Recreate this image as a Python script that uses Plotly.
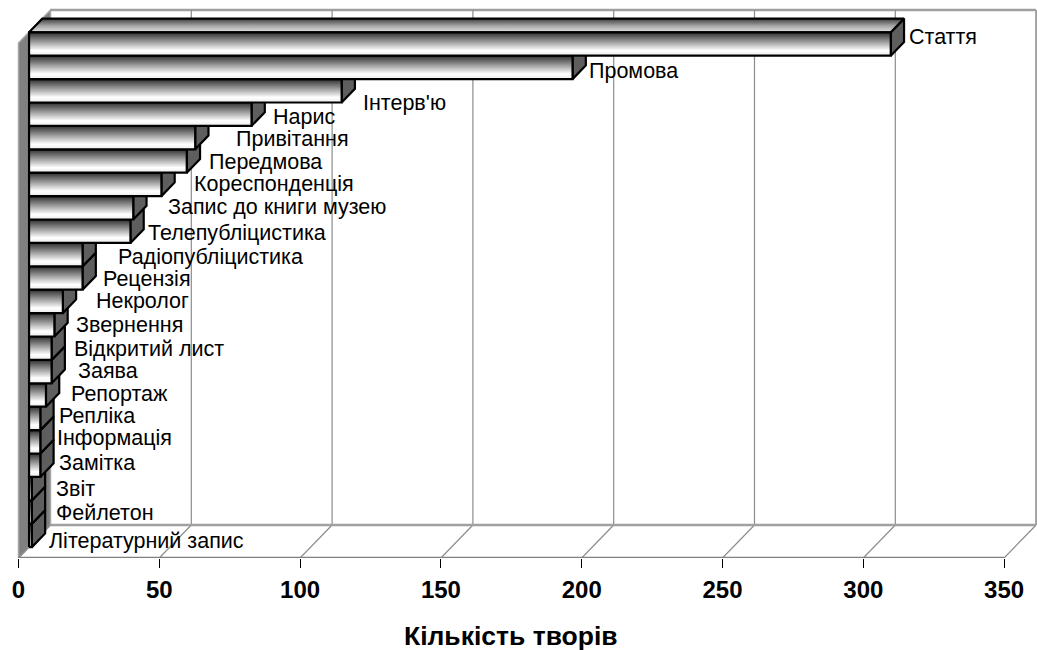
import plotly.graph_objects as go

# Genres (top to bottom) and number of works in each
genres = [
    "Стаття", "Промова", "Інтерв'ю", "Нарис", "Привітання", "Передмова",
    "Кореспонденція", "Запис до книги музею", "Телепубліцистика",
    "Радіопубліцистика", "Рецензія", "Некролог", "Звернення",
    "Відкритий лист", "Заява", "Репортаж", "Репліка", "Інформація",
    "Замітка", "Звіт", "Фейлетон", "Літературний запис",
]
counts = [306, 193, 111, 79, 59, 56, 47, 37, 36, 19, 19, 12, 9, 8, 8, 6, 4, 4, 4, 1, 1, 1]
x_ticks = [0, 50, 100, 150, 200, 250, 300, 350]
axis_title = "Кількість творів"

# Label placement tweaks (pixels): gap after the bar end, vertical shift (down +)
label_gap_px = [4, 2, 7, 7, 27, 8, 18, 20, 3, 21, 6, 19, 7, 8, 12, 11, 4, 2, 4, 10, 10, 3]
label_shift_px = [-7, 4, 12, 3, 1, 1, 0, -1, 2, 2, 1, 0, 0, 1, -0.5, -1.5, -2, -3.5, -2, 0, 1, 6]

# ---- page / projection geometry ----
W, H = 1037, 650
BOTTOM = 92
PLOT_H = H - BOTTOM
PX_X = 2.816          # pixels per unit of value
ORIGIN_PX = 18.5      # pixel position of value 0 on the front edge
PX_Y = 23.4           # pixels per bar slot
DEPTH_DX = 32 / PX_X  # oblique depth offset, in x units
DEPTH_DY = 33 / PX_Y  # oblique depth offset, in y units
T_FRONT, T_BACK = 0.33, 0.745   # depth of the bars' front and back faces
WALL_TOP = (PLOT_H - 10) / PX_Y
X_MAX = x_ticks[-1]
FONT = "Liberation Sans, Arial, sans-serif"

GRID = "#8c8c8c"
fig = go.Figure()
shapes = []

# left side wall
shapes.append(dict(
    type="path", layer="below",
    path=(f"M 0 0 L 0 {WALL_TOP - DEPTH_DY} L {DEPTH_DX} {WALL_TOP} "
          f"L {DEPTH_DX} {DEPTH_DY} Z"),
    fillcolor="#808080", line=dict(color="#a6a6a6", width=1.5),
))
# back wall top edge
shapes.append(dict(type="line", layer="below", x0=DEPTH_DX, x1=X_MAX + DEPTH_DX,
                   y0=WALL_TOP, y1=WALL_TOP, line=dict(color="#a0a0a0", width=2.5)))
# back wall gridlines and floor diagonals
for t in x_ticks:
    if t > 0:
        last = t == X_MAX
        shapes.append(dict(
            type="line", layer="below", x0=t + DEPTH_DX, x1=t + DEPTH_DX,
            y0=DEPTH_DY, y1=WALL_TOP,
            line=dict(color="#a0a0a0" if last else GRID, width=2 if last else 1.2),
        ))
    shapes.append(dict(type="line", layer="below", x0=t, x1=t + DEPTH_DX,
                       y0=0, y1=DEPTH_DY, line=dict(color=GRID, width=1.2)))
# floor edges
shapes.append(dict(type="line", layer="below", x0=DEPTH_DX, x1=X_MAX + DEPTH_DX,
                   y0=DEPTH_DY, y1=DEPTH_DY, line=dict(color="#a0a0a0", width=2.5)))
shapes.append(dict(type="line", layer="below", x0=0, x1=X_MAX, y0=0, y1=0,
                   line=dict(color="#808080", width=2.5)))

# ---- 3D bars, drawn from the bottom bar upwards ----
n = len(genres)
ddx = (T_BACK - T_FRONT) * DEPTH_DX
ddy = (T_BACK - T_FRONT) * DEPTH_DY
x0 = T_FRONT * DEPTH_DX
front_scale = [[0, "#ececec"], [0.22, "#ffffff"], [0.55, "#a8a8a8"], [1, "#2e2e2e"]]
top_scale = [[0, "#e4e4e4"], [0.5, "#a0a0a0"], [1, "#3c3c3c"]]
edge = dict(color="#000000", width=2.2)

for k in range(n - 1, -1, -1):
    v = counts[k]
    i = n - 1 - k
    yb = i + T_FRONT * DEPTH_DY
    # end face
    fig.add_trace(go.Scatter(
        x=[x0 + v, x0 + v + ddx, x0 + v + ddx, x0 + v, x0 + v],
        y=[yb, yb + ddy, yb + 1 + ddy, yb + 1, yb],
        mode="lines", fill="toself", fillcolor="#5e5e5e", line=edge,
        hoverinfo="skip", showlegend=False))
    # top face
    fig.add_trace(go.Scatter(
        x=[x0, x0 + v, x0 + v + ddx, x0 + ddx, x0],
        y=[yb + 1, yb + 1, yb + 1 + ddy, yb + 1 + ddy, yb + 1],
        mode="lines", fill="toself",
        fillgradient=dict(type="vertical", colorscale=top_scale),
        line=edge, hoverinfo="skip", showlegend=False))
    # front face
    fig.add_trace(go.Scatter(
        x=[x0, x0 + v, x0 + v, x0, x0],
        y=[yb, yb, yb + 1, yb + 1, yb],
        mode="lines", fill="toself",
        fillgradient=dict(type="vertical", colorscale=front_scale),
        line=edge, hoverinfo="skip", showlegend=False))

# ---- category labels at the bar ends ----
annotations = []
for k, (name, v) in enumerate(zip(genres, counts)):
    i = n - 1 - k
    annotations.append(dict(
        x=v + T_BACK * DEPTH_DX + label_gap_px[k] / PX_X,
        y=i + T_FRONT * DEPTH_DY + 0.5 - label_shift_px[k] / PX_Y,
        text=name, showarrow=False, xanchor="left", yanchor="middle",
        font=dict(family=FONT, size=21.5, color="#000"),
        borderpad=0,
    ))
# axis title below the tick labels
annotations.append(dict(
    xref="x", yref="paper",
    x=X_MAX / 2, y=-(636 - PLOT_H) / PLOT_H, text=f"<b>{axis_title}</b>",
    showarrow=False, xanchor="center", yanchor="middle",
    font=dict(family=FONT, size=26.5, color="#000"),
))

fig.update_layout(
    width=W, height=H,
    margin=dict(l=0, r=0, t=0, b=BOTTOM, pad=0),
    paper_bgcolor="white", plot_bgcolor="white",
    shapes=shapes, annotations=annotations, showlegend=False,
    xaxis=dict(
        range=[-ORIGIN_PX / PX_X, (W - ORIGIN_PX) / PX_X],
        tickvals=x_ticks, ticktext=[f"<b>{t}</b>" for t in x_ticks],
        ticks="outside", ticklen=9, tickwidth=1.2, tickcolor="#000",
        ticklabelstandoff=1,
        tickfont=dict(family=FONT, size=24, color="#000"),
        showgrid=False, zeroline=False, showline=False, fixedrange=True,
    ),
    yaxis=dict(range=[0, PLOT_H / PX_Y], visible=False, fixedrange=True),
)

fig.write_html("out.html")
